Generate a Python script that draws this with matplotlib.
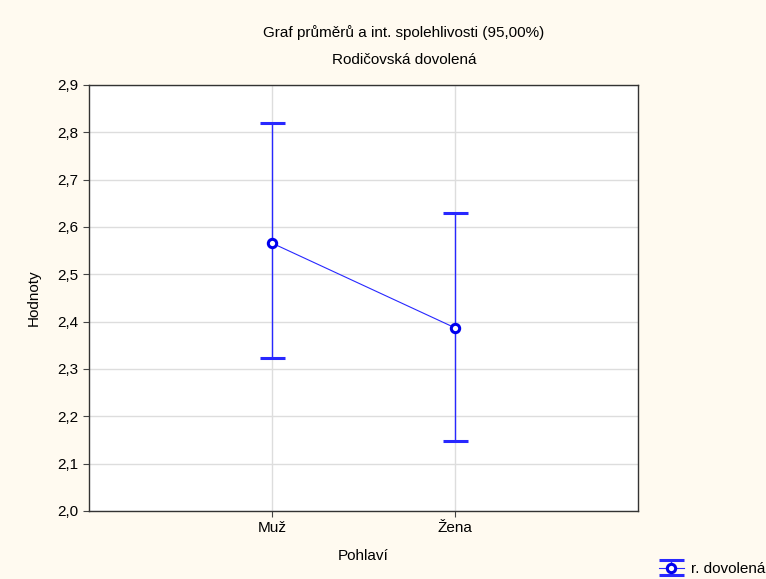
import matplotlib.pyplot as plt
from matplotlib.ticker import FuncFormatter

plt.rcParams['font.family'] = ['Liberation Sans', 'DejaVu Sans']

# Means and 95% confidence limits
categories = ['Muž', 'Žena']
means = [2.566, 2.387]
lower = [2.323, 2.147]
upper = [2.820, 2.630]

blue = '#2828ff'
cream = '#fffaf0'

fig = plt.figure(figsize=(7.66, 5.79), dpi=100, facecolor=cream)
ax = fig.add_axes([89 / 766, 1 - 511 / 579, (638 - 89) / 766, (511 - 85) / 579])
ax.set_facecolor('white')

x = list(range(1, len(categories) + 1))
yerr = [[m - lo for m, lo in zip(means, lower)], [hi - m for m, hi in zip(means, upper)]]
eb = ax.errorbar(x, means, yerr=yerr, color=blue, lw=0.8, elinewidth=1, capsize=9,
                 capthick=0.6, marker='o', ms=6, mfc='white', mec='#0000ee', mew=2.2,
                 zorder=3, label='r. dovolená')

ax.set_xlim(0, 3)
ax.set_ylim(2.0, 2.9)
ax.set_xticks(x)
ax.set_xticklabels(categories)
ax.set_yticks([2.0 + i * 0.1 for i in range(10)])
ax.yaxis.set_major_formatter(FuncFormatter(lambda v, p: f'{v:.1f}'.replace('.', ',')))
ax.grid(True, color='#dddddd', lw=1)
ax.set_axisbelow(True)
ax.tick_params(labelsize=11, length=4, color='#444444')
for s in ax.spines.values():
    s.set_color('#333333')
    s.set_linewidth(1)

ax.set_xlabel('Pohlaví', fontsize=11, labelpad=10)
ax.set_ylabel('Hodnoty', fontsize=11, labelpad=12)

fig.text(404 / 766, 1 - 33 / 579, 'Graf průměrů a int. spolehlivosti (95,00%)',
         ha='center', va='center', fontsize=11)
fig.text(404 / 766, 1 - 60 / 579, 'Rodičovská dovolená', ha='center', va='center', fontsize=11)

fig.legend(handles=[eb], labels=['r. dovolená'], loc='center left',
           bbox_to_anchor=(653 / 766, 1 - 569 / 579), frameon=False, fontsize=11,
           handlelength=1.6, handletextpad=0.5, borderaxespad=0)

fig.savefig('out.png', dpi=100, facecolor=cream)
plt.close(fig)
